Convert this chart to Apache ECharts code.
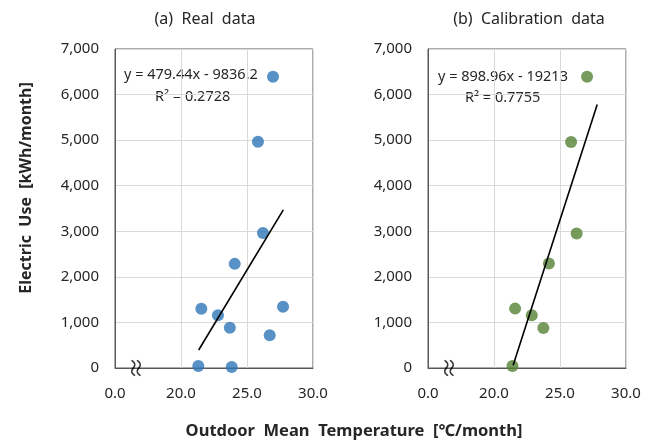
<!DOCTYPE html>
<html>
<head>
<meta charset="utf-8">
<script src="https://cdn.jsdelivr.net/npm/echarts@6/dist/echarts.min.js"></script>
<style>
  html, body { margin: 0; padding: 0; background: #fff; }
  #chart { width: 657px; height: 442px; }
</style>
</head>
<body>
<div id="chart"></div>
<script>
// (a) real data: [temperature, electric use]
const realData = [
  [26.97, 6390], [25.83, 4965], [26.21, 2960], [24.07, 2285],
  [21.54, 1300], [22.80, 1156], [23.70, 884], [27.73, 1344],
  [26.72, 717], [21.31, 44], [23.84, 22]
];
// (b) calibration data
const calibData = [
  [27.05, 6390], [25.84, 4960], [26.26, 2952], [24.16, 2292],
  [21.60, 1303], [22.86, 1158], [23.74, 879], [21.40, 44]
];
// trendline ends
const realTrend = [[21.34, 395], [27.75, 3470]];
const calibTrend = [[21.45, 60], [27.82, 5780]];
// axis break marker position
const breakMark = [[16.7, 0]];

const xTicks = { min: 15, max: 30, step: 5 };
const yTicks = { min: 0, max: 7000, step: 1000 };

const FONT = '"Noto Sans", "Noto Sans CJK KR", sans-serif';
const BLUE = '#2E75B6';
const GREEN = '#548235';

function xAxisFor(gridIndex) {
  return {
    type: 'value', gridIndex,
    min: xTicks.min, max: xTicks.max, interval: xTicks.step,
    axisLine: { show: true, onZero: false, lineStyle: { color: '#595959', width: 1 } },
    axisTick: { show: false },
    splitLine: { lineStyle: { color: '#d9d9d9' } },
    axisLabel: {
      color: '#262626', fontSize: 15, fontFamily: FONT, margin: 18,
      formatter: v => (v === xTicks.min ? '0.0' : v.toFixed(1))
    }
  };
}

function yAxisFor(gridIndex) {
  return {
    type: 'value', gridIndex,
    min: yTicks.min, max: yTicks.max, interval: yTicks.step,
    axisLine: { show: true, lineStyle: { color: '#595959', width: 1 } },
    axisTick: { show: false },
    splitLine: { lineStyle: { color: '#d9d9d9' } },
    axisLabel: {
      color: '#262626', fontSize: 15, fontFamily: FONT, margin: 16,
      formatter: v => v.toLocaleString('en-US')
    }
  };
}

function dots(idx, data, colour) {
  return {
    type: 'scatter', xAxisIndex: idx, yAxisIndex: idx,
    data, symbolSize: 12, itemStyle: { color: colour }, z: 3
  };
}

function trend(idx, data) {
  return {
    type: 'line', xAxisIndex: idx, yAxisIndex: idx,
    data, symbol: 'none', lineStyle: { color: '#000', width: 1.6 }, z: 4
  };
}

function breaker(idx) {
  return {
    type: 'scatter', xAxisIndex: idx, yAxisIndex: idx,
    data: breakMark, symbol: 'rect', symbolSize: 1, z: 5,
    itemStyle: { color: 'rgba(0,0,0,0)' },
    label: {
      show: true, position: 'inside', formatter: '≈', rotate: 90,
      fontSize: 22, color: '#000', fontFamily: FONT
    }
  };
}

function text(x, y, str, size, bold, align) {
  return {
    type: 'text', x, y,
    style: {
      text: str, fill: '#262626', font: (bold ? 'bold ' : '') + size + 'px ' + FONT,
      textAlign: align || 'center', textVerticalAlign: 'middle'
    }
  };
}

const chart = echarts.init(document.getElementById('chart'));
chart.setOption({
  backgroundColor: '#fff',
  animation: false,
  grid: [
    { left: 115, right: 344, top: 49, bottom: 74, show: true, borderColor: '#595959', borderWidth: 1 },
    { left: 428, right: 31, top: 49, bottom: 74, show: true, borderColor: '#595959', borderWidth: 1 }
  ],
  xAxis: [xAxisFor(0), xAxisFor(1)],
  yAxis: [yAxisFor(0), yAxisFor(1)],
  series: [
    dots(0, realData, BLUE), trend(0, realTrend), breaker(0),
    dots(1, calibData, GREEN), trend(1, calibTrend), breaker(1)
  ],
  graphic: [
    text(205, 19, '(a)  Real  data', 16, false),
    text(529, 19, '(b)  Calibration  data', 16, false),
    text(124, 75, 'y = 479.44x - 9836.2', 14.5, false, 'left'),
    text(155, 97, 'R² = 0.2728', 14.5, false, 'left'),
    text(438, 77, 'y = 898.96x - 19213', 14.5, false, 'left'),
    text(465, 98, 'R² = 0.7755', 14.5, false, 'left'),
    text(354, 431, 'Outdoor  Mean  Temperature  [℃/month]', 16.5, true),
    { ...text(0, 0, 'Electric  Use  [kWh/month]', 16, true), x: 26, y: 188, rotation: Math.PI / 2 }
  ]
});
</script>
</body>
</html>
